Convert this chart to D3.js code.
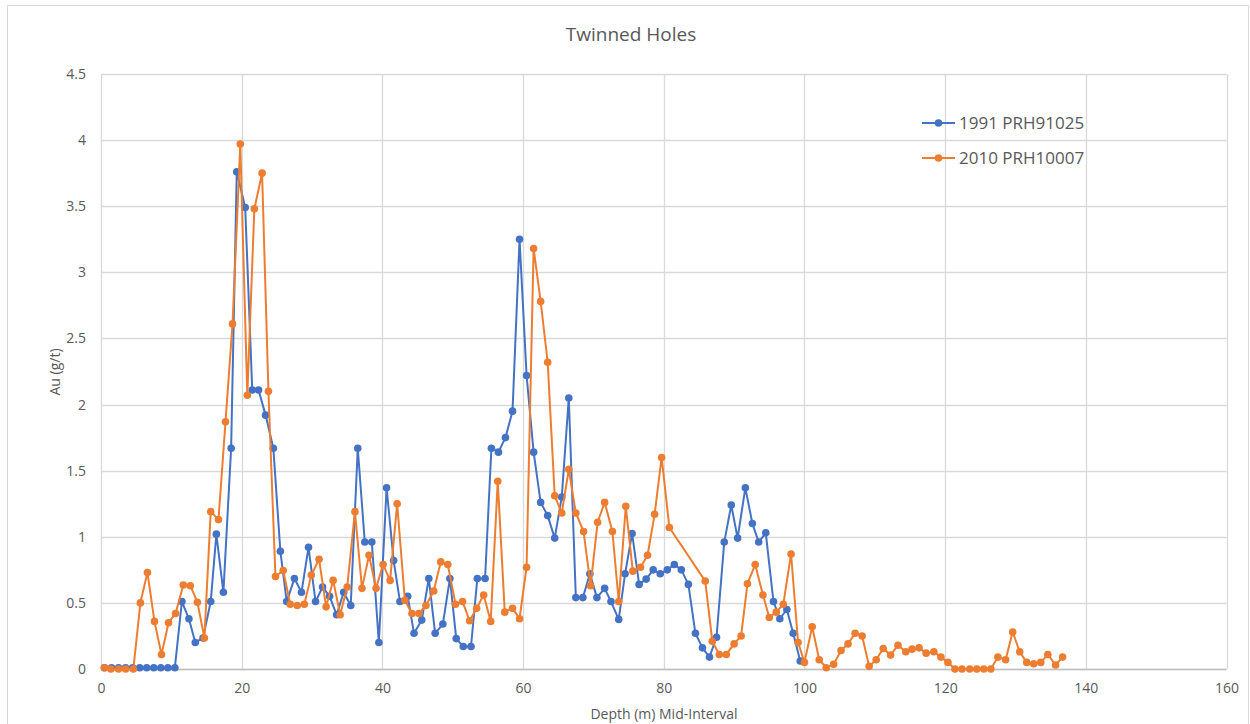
<!DOCTYPE html>
<html>
<head>
<meta charset="utf-8">
<script src="https://cdn.jsdelivr.net/npm/d3@7"></script>
<style>
  html, body { margin: 0; padding: 0; background: #fff; }
  svg text { font-family: "Open Sans", "Noto Sans", sans-serif; fill: #595959; }
</style>
</head>
<body>
<svg id="chart" width="1250" height="724"></svg>
<script>
// ---- Data ----
const seriesNames = ["1991 PRH91025", "2010 PRH10007"];
const seriesColors = ["#4472C4", "#ED7D31"];

const depth1991 = [0.5,1.5,2.5,3.5,4.5,5.5,6.5,7.5,8.5,9.5,10.5,11.5,12.5,13.4,14.5,15.6,16.4,17.4,18.5,19.3,
  20.5,21.5,22.4,23.4,24.5,25.5,26.4,27.5,28.5,29.5,30.5,31.5,32.5,33.5,34.5,35.5,36.5,37.5,38.5,39.5,
  40.6,41.6,42.5,43.6,44.5,45.6,46.6,47.5,48.6,49.6,50.5,51.5,52.6,53.5,54.6,55.5,56.5,57.5,58.5,59.5,
  60.5,61.5,62.5,63.5,64.5,65.5,66.5,67.5,68.5,69.5,70.5,71.6,72.5,73.6,74.5,75.5,76.5,77.5,78.5,79.5,
  80.5,81.5,82.5,83.5,84.5,85.5,86.5,87.5,88.6,89.6,90.5,91.6,92.6,93.5,94.5,95.6,96.5,97.5,98.4,99.4];
const au1991 = [0.01,0.01,0.01,0.01,0.01,0.01,0.01,0.01,0.01,0.01,0.01,0.51,0.38,0.20,0.235,0.51,1.02,0.58,1.67,3.76,
  3.49,2.11,2.11,1.92,1.67,0.89,0.51,0.685,0.58,0.92,0.51,0.62,0.55,0.41,0.58,0.48,1.67,0.96,0.96,0.20,
  1.37,0.82,0.51,0.55,0.27,0.37,0.685,0.27,0.34,0.685,0.23,0.17,0.17,0.685,0.685,1.67,1.64,1.75,1.95,3.25,
  2.22,1.64,1.26,1.16,0.99,1.30,2.05,0.54,0.54,0.72,0.54,0.61,0.51,0.375,0.72,1.025,0.64,0.68,0.75,0.72,
  0.75,0.79,0.75,0.64,0.27,0.16,0.09,0.24,0.96,1.24,0.99,1.37,1.10,0.96,1.03,0.51,0.38,0.45,0.27,0.06];

const depth2010 = [0.47,1.4,2.5,3.5,4.6,5.6,6.6,7.6,8.6,9.6,10.6,11.7,12.7,13.7,14.7,15.6,16.7,17.7,18.7,19.8,
  20.8,21.8,22.9,23.8,24.8,25.9,26.9,27.9,28.9,29.9,31.0,32.0,33.0,34.0,35.0,36.1,37.1,38.1,39.1,40.1,
  41.1,42.1,43.2,44.2,45.2,46.2,47.3,48.3,49.3,50.4,51.4,52.4,53.4,54.4,55.4,56.4,57.4,58.5,59.5,60.5,
  61.5,62.5,63.5,64.5,65.5,66.5,67.5,68.6,69.6,70.6,71.6,72.7,73.6,74.6,75.6,76.7,77.7,78.7,79.7,80.8,
  85.9,86.9,87.9,88.9,90.0,91.0,91.9,93.0,94.1,95.0,96.0,97.0,98.1,99.1,100.0,101.1,102.1,103.1,104.15,105.2,
  106.2,107.2,108.2,109.2,110.2,111.2,112.25,113.3,114.4,115.3,116.3,117.3,118.4,119.4,120.4,121.4,122.4,123.5,124.5,125.5,
  126.5,127.5,128.6,129.6,130.6,131.6,132.6,133.6,134.6,135.7,136.7];
const au2010 = [0.01,0,0,0,0,0.50,0.73,0.36,0.11,0.35,0.42,0.635,0.63,0.505,0.235,1.19,1.13,1.87,2.61,3.97,
  2.07,3.48,3.75,2.10,0.70,0.745,0.49,0.48,0.49,0.71,0.83,0.47,0.67,0.41,0.62,1.19,0.61,0.86,0.61,0.79,
  0.67,1.25,0.52,0.42,0.42,0.48,0.59,0.81,0.79,0.49,0.51,0.365,0.46,0.56,0.36,1.42,0.43,0.46,0.38,0.77,
  3.18,2.78,2.32,1.31,1.18,1.51,1.18,1.04,0.63,1.11,1.26,1.04,0.51,1.23,0.74,0.77,0.86,1.17,1.60,1.07,
  0.665,0.21,0.11,0.11,0.19,0.25,0.645,0.79,0.56,0.39,0.43,0.49,0.87,0.20,0.05,0.32,0.07,0.01,0.035,0.14,
  0.19,0.27,0.25,0.02,0.07,0.155,0.105,0.18,0.13,0.15,0.16,0.12,0.13,0.09,0.05,0,0,0,0,0,
  0,0.09,0.07,0.28,0.13,0.05,0.04,0.05,0.11,0.03,0.09];

const xTicks = [0,20,40,60,80,100,120,140,160];
const yTicks = [0,0.5,1,1.5,2,2.5,3,3.5,4,4.5];

const titleText = "Twinned Holes";
const xTitle = "Depth (m) Mid-Interval";
const yTitle = "Au (g/t)";

// ---- Layout ----
const plot = { left: 101, right: 1226.5, top: 74, bottom: 669 };

const svg = d3.select("#chart");

// outer chart border
svg.append("rect")
  .attr("x", 7.5).attr("y", 5.5)
  .attr("width", 1241).attr("height", 730)
  .attr("fill", "#fff").attr("stroke", "#d9d9d9").attr("stroke-width", 1);

const x = d3.scaleLinear().domain([0, 160]).range([plot.left, plot.right]);
const y = d3.scaleLinear().domain([0, 4.5]).range([plot.bottom, plot.top]);

// gridlines
const grid = svg.append("g");
grid.selectAll("line.h").data(yTicks).enter().append("line")
  .attr("x1", plot.left).attr("x2", plot.right)
  .attr("y1", d => Math.round(y(d)) + 0.5).attr("y2", d => Math.round(y(d)) + 0.5)
  .attr("stroke", "#d9d9d9").attr("stroke-width", 1.3);
grid.selectAll("line.v").data(xTicks).enter().append("line")
  .attr("y1", plot.top).attr("y2", plot.bottom)
  .attr("x1", d => Math.round(x(d)) + 0.5).attr("x2", d => Math.round(x(d)) + 0.5)
  .attr("stroke", "#d9d9d9").attr("stroke-width", 1.3);

// axis base line
svg.append("line")
  .attr("x1", plot.left).attr("x2", plot.right)
  .attr("y1", Math.round(y(0)) + 0.5).attr("y2", Math.round(y(0)) + 0.5)
  .attr("stroke", "#bfbfbf").attr("stroke-width", 1.3);

// axes (labels via d3 axes)
const xAxis = d3.axisBottom(x).tickValues(xTicks).tickSize(0).tickPadding(14).tickFormat(d3.format("d"));
const gx = svg.append("g").attr("transform", `translate(0,${plot.bottom})`).call(xAxis);
gx.select(".domain").remove();
gx.selectAll("text").style("font-size", "14px").attr("fill", "#595959");

const yAxis = d3.axisLeft(y).tickValues(yTicks).tickSize(0).tickPadding(15).tickFormat(d => String(d));
const gy = svg.append("g").attr("transform", `translate(${plot.left},0)`).call(yAxis);
gy.select(".domain").remove();
gy.selectAll("text").style("font-size", "14px").attr("fill", "#595959");

// titles
svg.append("text").attr("x", 631).attr("y", 41).attr("text-anchor", "middle")
  .style("font-size", "19px").text(titleText);
svg.append("text").attr("x", 664).attr("y", 719).attr("text-anchor", "middle")
  .style("font-size", "14px").text(xTitle);
svg.append("text").attr("transform", "translate(60,372) rotate(-90)").attr("text-anchor", "middle")
  .style("font-size", "14px").text(yTitle);

// series
const series = [
  { name: seriesNames[0], color: seriesColors[0], pts: depth1991.map((d, i) => [d, au1991[i]]) },
  { name: seriesNames[1], color: seriesColors[1], pts: depth2010.map((d, i) => [d, au2010[i]]) }
];

const line = d3.line().x(d => x(d[0])).y(d => y(d[1]));

series.forEach(s => {
  const g = svg.append("g");
  g.append("path").datum(s.pts).attr("d", line)
    .attr("fill", "none").attr("stroke", s.color).attr("stroke-width", 2)
    .attr("stroke-linejoin", "round");
  g.selectAll("circle").data(s.pts).enter().append("circle")
    .attr("cx", d => x(d[0])).attr("cy", d => y(d[1])).attr("r", 3.8)
    .attr("fill", s.color);
});

// legend
const legend = svg.append("g");
series.forEach((s, i) => {
  const ly = 123 + i * 35;
  legend.append("line").attr("x1", 922).attr("x2", 955).attr("y1", ly).attr("y2", ly)
    .attr("stroke", s.color).attr("stroke-width", 2);
  legend.append("circle").attr("cx", 938.5).attr("cy", ly).attr("r", 3.8).attr("fill", s.color);
  legend.append("text").attr("x", 959).attr("y", ly + 6).style("font-size", "17px").text(s.name);
});
</script>
</body>
</html>
